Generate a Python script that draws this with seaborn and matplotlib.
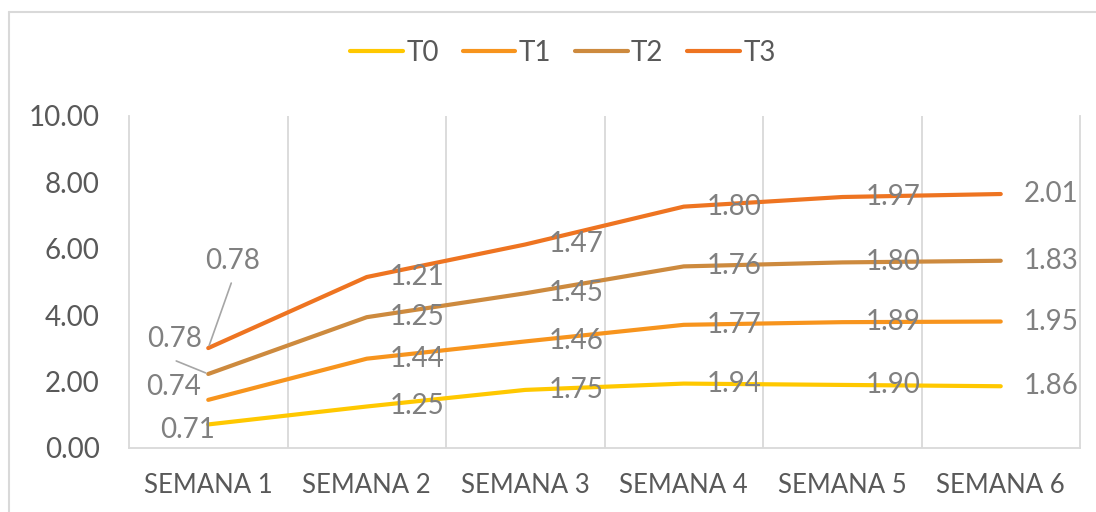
import matplotlib
matplotlib.use('Agg')
import numpy as np
import pandas as pd
import seaborn as sns
import matplotlib.pyplot as plt
from matplotlib.lines import Line2D

# data (stacked line chart)
weeks = ['SEMANA 1', 'SEMANA 2', 'SEMANA 3', 'SEMANA 4', 'SEMANA 5', 'SEMANA 6']
series = ['T0', 'T1', 'T2', 'T3']
t0 = [0.71, 1.25, 1.75, 1.94, 1.90, 1.86]
t1 = [0.74, 1.44, 1.46, 1.77, 1.89, 1.95]
t2 = [0.78, 1.25, 1.45, 1.76, 1.80, 1.83]
t3 = [0.78, 1.21, 1.47, 1.80, 1.97, 2.01]
y_ticks = [0, 2, 4, 6, 8, 10]

colors = ['#FFC800', '#F7941D', '#CD8A3E', '#EE7421']

vals = np.array([t0, t1, t2, t3])
stacked = vals.cumsum(axis=0)

rows = []
for i, s in enumerate(series):
    for j in range(len(weeks)):
        rows.append({'x': j, 'serie': s, 'valor': vals[i, j], 'acum': stacked[i, j]})
df = pd.DataFrame(rows)

sns.set_theme(style='white')
plt.rcParams['font.family'] = ['Lato', 'DejaVu Sans']

W, H = 1096, 512
fig = plt.figure(figsize=(W / 100, H / 100), dpi=100)
ax = fig.add_axes([129 / W, 1 - 448 / H, (1080 - 129) / W, (448 - 116) / H])

sns.lineplot(data=df, x='x', y='acum', hue='serie', palette=colors,
             linewidth=3.0, ax=ax, legend=True)
for ln in ax.lines:
    ln.set_solid_capstyle('round')
    ln.set_solid_joinstyle('round')

ax.set_xlim(-0.5, 5.5)
ax.set_ylim(0, 10)
ax.set_xticks(range(len(weeks)))
ax.set_xticklabels(weeks)
ax.set_yticks(y_ticks)
ax.set_yticklabels([f'{v:.2f}' for v in y_ticks])
ax.set_xticks(np.arange(0.5, 5, 1), minor=True)
ax.grid(False)
ax.grid(axis='x', which='minor', color='#d9d9d9', lw=1.3)
ax.tick_params(which='both', length=0)
ax.tick_params(axis='y', labelsize=20, labelcolor='#595959', pad=21)
ax.tick_params(axis='x', labelsize=18.5, labelcolor='#595959', pad=18)
ax.set_xlabel('')
ax.set_ylabel('')
for side in ['left', 'bottom', 'right']:
    ax.spines[side].set_color('#d9d9d9')
    ax.spines[side].set_linewidth(1.3)
ax.spines['top'].set_visible(False)

# data labels (value of each series, placed at right of the point)
lab_col = '#808080'
offsets = {
    (0, 0): (-21, -6, 'center'),
    (1, 0): (-35, 13, 'center'),
    (2, 0): (-34, 35, 'center'),
    (3, 0): (24, 87, 'center'),
}
for i, s in enumerate(series):
    for j in range(len(weeks)):
        dx, dy, ha = offsets.get((i, j), (23, 0, 'left'))
        ax.annotate(f'{vals[i, j]:.2f}', (j, stacked[i, j]), xytext=(dx, dy),
                    textcoords='offset pixels', ha=ha, va='center',
                    fontsize=20, color=lab_col)

# leader lines for the moved labels
ax.annotate('', (0, stacked[3, 0]), xytext=(23, 65), textcoords='offset pixels',
            arrowprops=dict(arrowstyle='-', color='#a6a6a6', lw=1.2, shrinkA=0, shrinkB=2))
ax.annotate('', (0, stacked[2, 0]), xytext=(-32, 13), textcoords='offset pixels',
            arrowprops=dict(arrowstyle='-', color='#a6a6a6', lw=1.2, shrinkA=0, shrinkB=2))

handles, labels = ax.get_legend_handles_labels()
ax.get_legend().remove()
for h in handles:
    h.set_linewidth(3.0)
    h.set_solid_capstyle('round')
leg = fig.legend(handles, labels, loc='center', bbox_to_anchor=(563 / W, 1 - 53 / H),
                 ncol=4, frameon=False, fontsize=20, handlelength=1.9,
                 handletextpad=0.12, columnspacing=0.85)
for t in leg.get_texts():
    t.set_color('#595959')

# outer chart border (left and top edges visible)
fig.add_artist(Line2D([9 / W, 9 / W], [0, 1 - 12 / H], transform=fig.transFigure,
                      color='#d9d9d9', lw=1.5))
fig.add_artist(Line2D([9 / W, 1], [1 - 12 / H, 1 - 12 / H], transform=fig.transFigure,
                      color='#d9d9d9', lw=1.5))

fig.savefig('out.png', dpi=100)
